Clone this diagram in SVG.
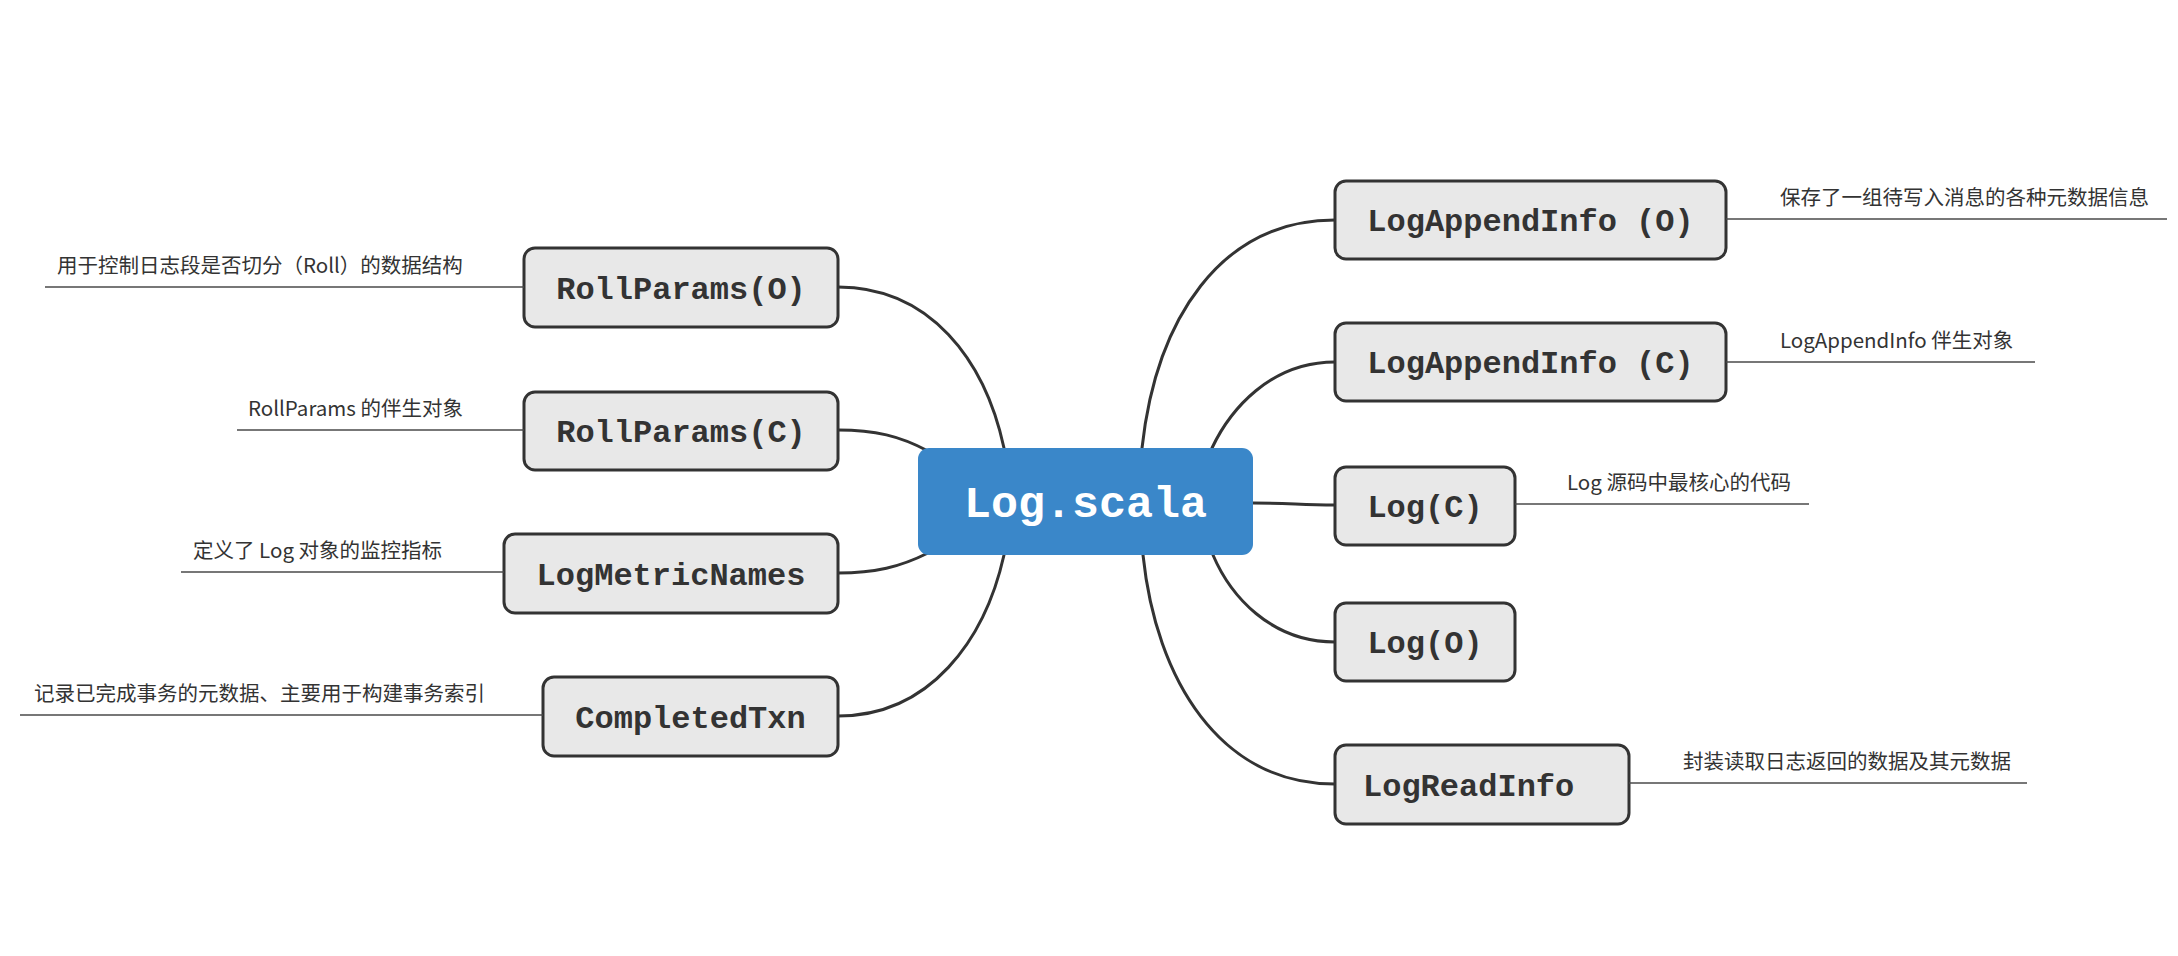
<svg xmlns="http://www.w3.org/2000/svg" width="2178" height="956" viewBox="0 0 2178 956">
<style>
.conn{fill:none;stroke:#333333;stroke-width:3;stroke-linecap:round}
.uline{fill:none;stroke:#4a4a4a;stroke-width:1.6}
.box{fill:#e8e8e8;stroke:#333333;stroke-width:3}
.lbl{font-family:"Liberation Mono","Courier New",monospace;font-weight:bold;font-size:32px;fill:#333333;text-anchor:middle}
.note{font-family:"Noto Sans CJK SC","Noto Sans",sans-serif;font-size:20.5px;fill:#333333}
</style>
<rect width="2178" height="956" fill="#ffffff"/>
<g id="connectors">
<path class="conn" d="M1142,448 C1156,320 1220,220 1335,220"/>
<path class="conn" d="M1212,448 C1230,410 1270,362 1335,362"/>
<path class="conn" d="M1253,503 C1290,503 1300,505 1335,505"/>
<path class="conn" d="M1213,555 C1230,595 1270,642 1335,642"/>
<path class="conn" d="M1143,555 C1156,680 1220,784 1335,784"/>
<path class="conn" d="M1004,448 C985,360 930,287 838,287"/>
<path class="conn" d="M928,451 C900,436 875,430 838,430"/>
<path class="conn" d="M928,553 C900,567 875,573 838,573"/>
<path class="conn" d="M1004,555 C985,640 930,716 838,716"/>
</g>
<g id="center">
<rect x="918" y="448" width="335" height="107" rx="11" fill="#3a87c9"/>
<text x="1085.5" y="517" font-family="Liberation Mono, Courier New, monospace" font-weight="bold" font-size="45" fill="#ffffff" text-anchor="middle">Log.scala</text>
</g>
<g id="node-logappendinfo-o">
<rect class="box" x="1335" y="181" width="391" height="78" rx="11"/>
<text class="lbl" x="1530.5" y="231">LogAppendInfo (O)</text>
<line class="uline" x1="1726" y1="219" x2="2167" y2="219"/>
<text class="note" x="1780" y="205">保存了一组待写入消息的各种元数据信息</text>
</g>
<g id="node-logappendinfo-c">
<rect class="box" x="1335" y="323" width="391" height="78" rx="11"/>
<text class="lbl" x="1530.5" y="373">LogAppendInfo (C)</text>
<line class="uline" x1="1726" y1="362" x2="2035" y2="362"/>
<text class="note" x="1780" y="348">LogAppendInfo 伴生对象</text>
</g>
<g id="node-log-c">
<rect class="box" x="1335" y="467" width="180" height="78" rx="11"/>
<text class="lbl" x="1425" y="517">Log(C)</text>
<line class="uline" x1="1515" y1="504" x2="1809" y2="504"/>
<text class="note" x="1567" y="490">Log 源码中最核心的代码</text>
</g>
<g id="node-log-o">
<rect class="box" x="1335" y="603" width="180" height="78" rx="11"/>
<text class="lbl" x="1425" y="653">Log(O)</text>
</g>
<g id="node-logreadinfo">
<rect class="box" x="1335" y="745" width="294" height="79" rx="11"/>
<text class="lbl" x="1363" y="796" text-anchor="start" style="text-anchor:start">LogReadInfo</text>
<line class="uline" x1="1629" y1="783" x2="2027" y2="783"/>
<text class="note" x="1683" y="769">封装读取日志返回的数据及其元数据</text>
</g>
<g id="node-rollparams-o">
<rect class="box" x="524" y="248" width="314" height="79" rx="11"/>
<text class="lbl" x="681" y="299">RollParams(O)</text>
<line class="uline" x1="45" y1="287" x2="524" y2="287"/>
<text class="note" x="57" y="273">用于控制日志段是否切分（Roll）的数据结构</text>
</g>
<g id="node-rollparams-c">
<rect class="box" x="524" y="392" width="314" height="78" rx="11"/>
<text class="lbl" x="681" y="442">RollParams(C)</text>
<line class="uline" x1="237" y1="430" x2="524" y2="430"/>
<text class="note" x="248" y="416">RollParams 的伴生对象</text>
</g>
<g id="node-logmetricnames">
<rect class="box" x="504" y="534" width="334" height="79" rx="11"/>
<text class="lbl" x="671" y="585">LogMetricNames</text>
<line class="uline" x1="181" y1="572" x2="504" y2="572"/>
<text class="note" x="193" y="558">定义了 Log 对象的监控指标</text>
</g>
<g id="node-completedtxn">
<rect class="box" x="543" y="677" width="295" height="79" rx="11"/>
<text class="lbl" x="690.5" y="728">CompletedTxn</text>
<line class="uline" x1="20" y1="715" x2="543" y2="715"/>
<text class="note" x="34" y="701">记录已完成事务的元数据、主要用于构建事务索引</text>
</g>
</svg>
